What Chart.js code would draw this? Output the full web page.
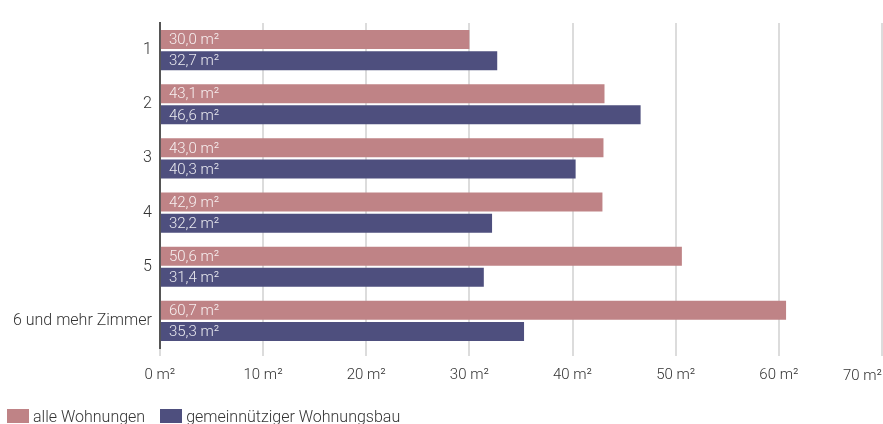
<!DOCTYPE html>
<html>
<head>
<meta charset="utf-8">
<script src="https://cdn.jsdelivr.net/npm/chart.js@4"></script>
<style>
  html, body { margin: 0; padding: 0; background: #fff; overflow: hidden; }
  #wrap { position: relative; width: 883px; height: 424px; }
  #legende {
    position: absolute; left: 7px; top: 407px;
    font: 300 16px Roboto, sans-serif; color: #333; white-space: nowrap;
  }
  #legende span.item { margin-right: 15px; }
  #legende span.box {
    display: inline-block; width: 22px; height: 14px;
    margin-right: 4px; vertical-align: -1px;
  }
</style>
</head>
<body>
<div id="wrap">
  <canvas id="flaecheChart"></canvas>
  <div id="legende"></div>
</div>
<script>
const zimmer = ['1', '2', '3', '4', '5', '6 und mehr Zimmer'];
const alleWohnungen = [30.0, 43.1, 43.0, 42.9, 50.6, 60.7];
const gemeinnuetzig = [32.7, 46.6, 40.3, 32.2, 31.4, 35.3];
const serienNamen = ['alle Wohnungen', 'gemeinnütziger Wohnungsbau'];
const farben = ['#bf8386', '#4e4f7e'];

const fmt = v => v.toFixed(1).replace('.', ',') + ' m²';
const tickPad = 10;

// Wert-Labels links in den Balken
const barLabels = {
  id: 'barLabels',
  afterDatasetsDraw(chart) {
    const ctx = chart.ctx;
    ctx.save();
    ctx.font = '300 15px Roboto';
    ctx.textAlign = 'left';
    ctx.textBaseline = 'middle';
    ctx.fillStyle = 'rgba(255,255,255,0.88)';
    chart.data.datasets.forEach((ds, i) => {
      chart.getDatasetMeta(i).data.forEach((bar, j) => {
        ctx.fillText(fmt(ds.data[j]), bar.base + 8, bar.y + 1);
      });
    });
    ctx.restore();
  }
};

// letztes x-Label nach innen schieben, damit es nicht abgeschnitten wird
const lastTick = {
  id: 'lastTick',
  afterDraw(chart) {
    const sc = chart.scales.x;
    const ctx = chart.ctx;
    const txt = sc.max + ' m²';
    ctx.save();
    ctx.font = '300 15px Roboto';
    ctx.fillStyle = '#333';
    ctx.textBaseline = 'middle';
    const w = ctx.measureText(txt).width;
    const x = Math.min(sc.getPixelForValue(sc.max), chart.width - w / 2 - 1);
    ctx.textAlign = 'center';
    ctx.fillText(txt, x, sc.top + 8 + tickPad + 10);
    ctx.restore();
  }
};

const flaecheChart = new Chart(document.getElementById('flaecheChart'), {
  type: 'bar',
  data: {
    labels: zimmer,
    datasets: [{
      label: serienNamen[0],
      data: alleWohnungen,
      backgroundColor: farben[0],
      barPercentage: 0.9,
      categoryPercentage: 0.78
    }, {
      label: serienNamen[1],
      data: gemeinnuetzig,
      backgroundColor: farben[1],
      barPercentage: 0.9,
      categoryPercentage: 0.78
    }]
  },
  options: {
    indexAxis: 'y',
    responsive: true,
    maintainAspectRatio: false,
    animation: false,
    layout: { padding: { top: 23, left: 5, right: 1, bottom: 30 } },
    plugins: {
      legend: { display: false },
      tooltip: { enabled: false }
    },
    scales: {
      x: {
        min: 0,
        max: 70,
        afterFit: s => { s.paddingRight = 0; },
        ticks: {
          stepSize: 10,
          color: '#333',
          padding: tickPad,
          font: { family: 'Roboto', size: 15, weight: '300' },
          callback: v => v === 70 ? '' : v + ' m²'
        },
        grid: { color: '#dcdcdc', lineWidth: 2, tickLength: 8 },
        border: { display: false }
      },
      y: {
        ticks: {
          color: '#333',
          padding: 8,
          font: { family: 'Roboto', size: 16, weight: '300' }
        },
        grid: { display: false, drawTicks: false },
        border: { color: '#555', width: 2 }
      }
    }
  },
  plugins: [barLabels, lastTick]
});

// Legende unter dem Diagramm
document.getElementById('legende').innerHTML = serienNamen.map((n, i) =>
  '<span class="item"><span class="box" style="background:' + farben[i] + '"></span>' + n + '</span>'
).join('');
</script>
</body>
</html>
